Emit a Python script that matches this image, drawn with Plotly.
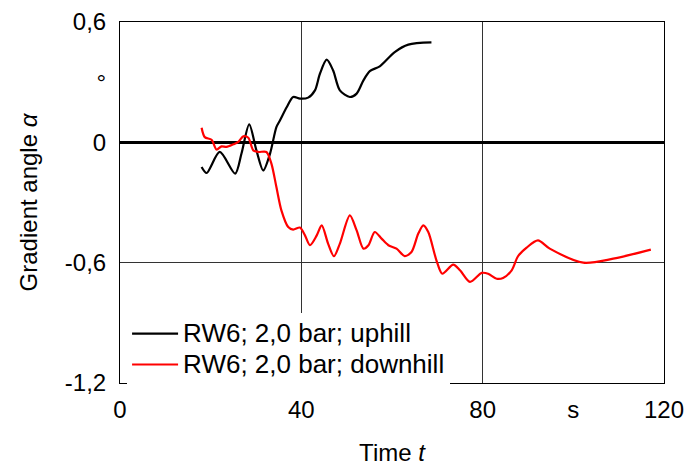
import plotly.graph_objects as go

# Uphill series (time in s, gradient angle in degrees)
t_up = [18.0, 19.1, 22.0, 25.4, 26.8, 28.5, 30.1, 31.6, 33.1, 34.5, 35.3, 36.8, 38.2,
        39.7, 41.5, 43.0, 44.1, 45.6, 47.0, 48.5, 50.7, 52.2, 53.7, 55.1, 57.3, 60.6,
        63.6, 68.7]
a_up = [-0.123, -0.153, -0.048, -0.156, -0.056, 0.090, -0.04, -0.14, -0.056, 0.076,
        0.11, 0.176, 0.226, 0.218, 0.223, 0.259, 0.342, 0.412, 0.359, 0.259, 0.226,
        0.243, 0.309, 0.355, 0.379, 0.450, 0.487, 0.498]

# Downhill series
t_down = [18.0, 18.7, 20.2, 21.3, 22.4, 23.5, 25.0, 26.1, 27.2, 28.3, 29.4, 30.5, 32.3,
          33.4, 34.5, 35.6, 37.1, 38.2, 39.7, 40.8, 41.9, 43.4, 44.5, 45.9, 47.2, 48.5,
          50.7, 52.2, 53.7, 54.8, 56.2, 57.7, 59.2, 61.0, 62.8, 64.3, 65.8, 66.9, 68.0,
          69.8, 71.1, 73.5, 75.0, 77.2, 79.8, 81.2, 83.1, 84.5, 86.4, 87.8, 89.7, 92.2,
          94.8, 102.2, 108.8, 117.1]
a_down = [0.073, 0.026, 0.013, -0.036, -0.02, -0.023, -0.01, 0.002, 0.03, 0.023, -0.04,
          -0.048, -0.048, -0.106, -0.223, -0.339, -0.422, -0.435, -0.425, -0.464, -0.513,
          -0.464, -0.414, -0.505, -0.568, -0.505, -0.364, -0.439, -0.530, -0.513, -0.447,
          -0.480, -0.513, -0.530, -0.567, -0.547, -0.455, -0.414, -0.447, -0.588, -0.655,
          -0.61, -0.638, -0.696, -0.651, -0.655, -0.68, -0.676, -0.638, -0.568, -0.525,
          -0.489, -0.530, -0.600, -0.580, -0.535]

series_names = ["RW6; 2,0 bar; uphill", "RW6; 2,0 bar; downhill"]

x_tickvals = [0, 40, 80, 100, 120]
x_ticktext = ["0", "40", "80", "s", "120"]
y_tickvals = [0.6, 0.3, 0, -0.6, -1.2]
y_ticktext = ["0,6", "°", "0", "-0,6", "-1,2"]
x_grid = [40, 80]
y_grid = [-0.6]

FONT = "Liberation Sans, Arial, sans-serif"
FS = 24


def legend_label(text):
    # larger glyphs inside a tighter legend row spacing
    return '<span style="font-size:26px">' + text + "</span>"


fig = go.Figure()
fig.add_trace(go.Scatter(x=t_up, y=a_up, mode="lines", name=legend_label(series_names[0]),
                         line=dict(color="black", width=2.2, shape="spline", smoothing=0.8)))
fig.add_trace(go.Scatter(x=t_down, y=a_down, mode="lines", name=legend_label(series_names[1]),
                         line=dict(color="#ff0000", width=2.2, shape="spline", smoothing=0.8)))

fig.update_layout(
    width=686, height=468,
    margin=dict(l=120, r=22, t=22, b=85),
    paper_bgcolor="white", plot_bgcolor="white",
    font=dict(family=FONT, size=FS, color="black"),
    showlegend=True,
    legend=dict(x=0.013, y=0.094, xanchor="left", yanchor="middle", bgcolor="white",
                borderwidth=0, font=dict(size=21.5, color="black"), itemwidth=46,
                tracegroupgap=0),
)
fig.update_xaxes(
    range=[0, 120], tickmode="array", tickvals=x_tickvals, ticktext=x_ticktext,
    showgrid=False, zeroline=False, showline=True, linecolor="black", linewidth=1,
    mirror=True, ticks="", tickfont=dict(size=FS), automargin=False,
    ticklabelstandoff=5, ticklabeloverflow="allow",
    minor=dict(tickmode="array", tickvals=x_grid, showgrid=True, gridcolor="#333333",
               gridwidth=1, ticks=""),
    title=dict(text="Time <i>t</i>", font=dict(size=FS), standoff=22),
)
fig.update_yaxes(
    range=[-1.2, 0.6], tickmode="array", tickvals=y_tickvals, ticktext=y_ticktext,
    showgrid=False, zeroline=True, zerolinecolor="black", zerolinewidth=3,
    showline=True, linecolor="black", linewidth=1, mirror=True, ticks="",
    tickfont=dict(size=FS), automargin=False, ticklabelstandoff=8,
    ticklabeloverflow="allow",
    minor=dict(tickmode="array", tickvals=y_grid, showgrid=True, gridcolor="#333333",
               gridwidth=1, ticks=""),
    title=dict(text="Gradient angle <i>α</i>", font=dict(size=FS), standoff=20),
)

# remove the default page margin so the figure fills the window exactly
fig.write_html("out.html",
               config={"displayModeBar": False},
               post_script="document.body.style.margin='0';"
                           "document.body.style.overflow='hidden';")
